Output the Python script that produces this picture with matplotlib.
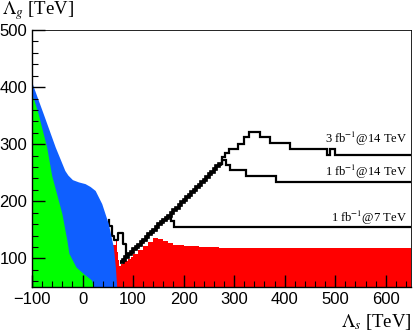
import numpy as np
import matplotlib
matplotlib.use("Agg")
import matplotlib.pyplot as plt
from matplotlib.ticker import MultipleLocator

plt.rcParams['mathtext.fontset'] = 'stix'

# green region: right edge (Lambda_s) as a function of Lambda_g
green_y = [50, 62, 74, 85, 109, 132, 179, 245, 295, 354, 377, 385]
green_x = [21, 18, 1, -13, -27, -31, -41, -61, -71, -88, -96, -100]

# blue region
blue_y = [50, 85, 120, 161, 196, 219, 226, 231, 234, 238, 246, 254, 295, 354, 400, 408]
blue_x = [67.6, 65, 61, 51, 38, 25, 15, 5, -8, -20, -29, -35, -54, -78, -97, -100]

# red region (step histogram)
red_edges = [61, 66, 68, 70, 72, 76, 80, 85, 90, 95, 100, 110, 120, 130, 140, 150,
             160, 170, 180, 200, 230, 270, 650]
red_top = [124, 132, 112, 97, 86, 90, 93, 96, 99, 102, 108, 114, 121, 128, 135, 134,
           130, 127, 124, 122, 120, 118]

# shared diagonal of the three contours
diag_edges = [75, 80, 85, 90, 95, 100, 105, 110, 115, 120, 125, 130, 135, 140,
              145, 150, 155, 160, 165, 170, 175, 180, 185, 190, 195, 200, 205,
              210, 215, 220, 225, 230, 235, 240, 245, 250, 255, 260, 265, 270, 275]
diag_levels = [93, 98, 103, 107, 112, 116, 120, 124, 129, 133, 138, 142, 146,
               150, 155, 160, 164, 168, 171, 175, 180, 184, 189, 193, 198, 202,
               207, 211, 216, 220, 225, 229, 234, 238, 243, 247, 252, 256, 261, 266]

# tails after leaving the diagonal
tev7_edges = [175, 181, 650]
tev7_levels = [166, 155]
tev14_edges = [275, 284, 292, 323, 383, 650]
tev14_levels = [272, 263, 254, 244, 234]
tev14b_edges = [275, 282, 290, 308, 319, 330, 351, 371, 411, 483, 490, 500, 650]
tev14b_levels = [278, 284, 292, 301, 313, 321, 313, 302, 292, 282, 292, 282]

# small box of the 7 TeV contour
box_x = [52, 52, 58, 58, 62, 62, 71, 71, 80, 80, 87, 87]
box_y = [168, 157, 157, 140, 140, 132, 132, 144, 144, 126, 126, 106]

labels = [r'3 fb$^{-1}$@14 TeV', r'1 fb$^{-1}$@14 TeV', r'1 fb$^{-1}$@7 TeV']
label_y = [310, 251, 171]

fig = plt.figure(figsize=(4.15, 3.32), dpi=100)
ax = fig.add_axes([32/415, 45/332, 379/415, 257/332])

ax.stairs(red_top, red_edges, baseline=50, fill=True, color='#ff0000', lw=0, zorder=1)

n7 = diag_edges.index(175)
for e, l in [(diag_edges[:n7+1] + tev7_edges[1:], diag_levels[:n7] + tev7_levels),
             (diag_edges + tev14_edges[1:], diag_levels + tev14_levels),
             (diag_edges + tev14b_edges[1:], diag_levels + tev14b_levels)]:
    ax.stairs(l, e, baseline=None, color='black', lw=1.6, zorder=2)
ax.stairs(diag_levels, diag_edges, baseline=None, color='black', lw=2.6, zorder=2)
ax.plot(box_x, box_y, color='black', lw=1.6, zorder=2)

ax.fill_betweenx(blue_y, -100, blue_x, color='#0f5fff', lw=0, zorder=3)
ax.fill_betweenx(green_y, -100, green_x, color='#00ff00', lw=0, zorder=4)

for t, y in zip(labels, label_y):
    ax.text(642, y, t, ha='right', va='center', fontsize=9,
            family='Liberation Serif', zorder=5)

ax.set_xlim(-100, 650)
ax.set_ylim(50, 500)
ax.xaxis.set_major_locator(MultipleLocator(100))
ax.xaxis.set_minor_locator(MultipleLocator(20))
ax.yaxis.set_major_locator(MultipleLocator(100))
ax.yaxis.set_minor_locator(MultipleLocator(20))
ax.tick_params(which='both', direction='in', top=False, right=False)
ax.tick_params(which='major', length=9, width=1, labelsize=12, pad=3.5)
ax.tick_params(which='minor', length=4.5, width=0.8)
for lab in ax.get_xticklabels() + ax.get_yticklabels():
    lab.set_family('Liberation Sans')
ax.xaxis.set_zorder(6)
ax.yaxis.set_zorder(6)
for s in ['top', 'right']:
    ax.spines[s].set_linewidth(0.6)
for s in ['left', 'bottom']:
    ax.spines[s].set_linewidth(1.0)
for s in ax.spines.values():
    s.set_zorder(6)

fig.text(2/415, 1 - 11/332, r'$\Lambda_g$ [TeV]', ha='left', va='center',
         fontsize=13.5, family='Liberation Serif')
fig.text(412/415, 1 - 322/332, r'$\Lambda_s$ [TeV]', ha='right', va='center',
         fontsize=13.5, family='Liberation Serif')

fig.savefig('out.png', dpi=100)
